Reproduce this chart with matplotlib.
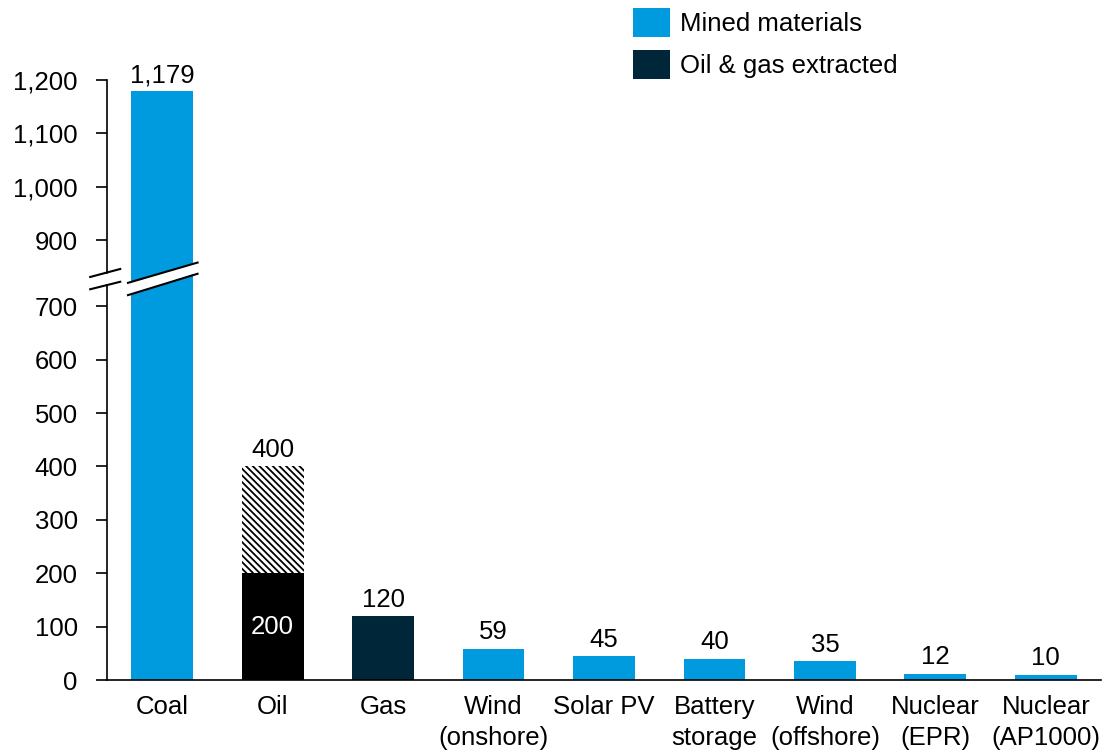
import numpy as np
import matplotlib.pyplot as plt
from matplotlib.patches import Patch, Polygon

plt.rcParams['font.family'] = ['Liberation Sans', 'DejaVu Sans']
plt.rcParams['hatch.linewidth'] = 1.3

# tonnes of material per TWh
sources = ['Coal', 'Oil', 'Gas', 'Wind\n(onshore)', 'Solar PV', 'Battery\nstorage',
           'Wind\n(offshore)', 'Nuclear\n(EPR)', 'Nuclear\n(AP1000)']
values = [1179, 200, 120, 59, 45, 40, 35, 12, 10]
oil_upper = 400          # top of the range for oil
kinds = ['mined', 'oil', 'extracted', 'mined', 'mined', 'mined', 'mined', 'mined', 'mined']

blue = '#009BDE'
navy = '#00263A'
colors = {'mined': blue, 'oil': '#000000', 'extracted': navy}

# broken axis: values above the gap are pulled down
GAP = 76
def brk(v):
    v = np.asarray(v, dtype=float)
    return np.where(v > 800, v - GAP, v)

yticks = [0, 100, 200, 300, 400, 500, 600, 700, 900, 1000, 1100, 1200]

fig = plt.figure(figsize=(11.02, 7.53), dpi=100)
ax = fig.add_axes([107/1102, 1 - 680/753, 994/1102, 600/753])

x = np.arange(len(sources))
w = 0.56
heights = brk(values)
ax.bar(x, heights, width=w, color=[colors[k] for k in kinds], zorder=2)

# hatched part of the oil range
i_oil = kinds.index('oil')
ax.bar(x[i_oil], oil_upper - values[i_oil], bottom=values[i_oil], width=w,
       facecolor='white', edgecolor='black', hatch='\\\\\\\\\\', linewidth=0, zorder=2)

fs = 18.5
for i, v in enumerate(values):
    if kinds[i] == 'oil':
        ax.text(x[i], v / 2, f'{v:,}', ha='center', va='center', color='white', fontsize=fs, zorder=3)
        ax.annotate(f'{oil_upper:,}', (x[i], oil_upper), xytext=(0, 3), textcoords='offset points',
                    ha='center', va='bottom', fontsize=fs)
    else:
        ax.annotate(f'{v:,}', (x[i], float(brk(v))), xytext=(0, 3), textcoords='offset points',
                    ha='center', va='bottom', fontsize=fs, annotation_clip=False)

ax.set_xlim(-0.5, len(sources) - 0.5)
ax.set_ylim(0, float(brk(1200)))
ax.set_yticks(brk(yticks))
ax.set_yticklabels([f'{t:,}' for t in yticks])
ax.set_xticks(x)
ax.set_xticklabels(sources, linespacing=1.35)
ax.tick_params(axis='x', length=0, pad=11, labelsize=fs)
ax.tick_params(axis='y', length=8, width=1.2, pad=13, labelsize=fs, direction='out')

for s in ['top', 'right', 'left']:
    ax.spines[s].set_visible(False)
ax.spines['bottom'].set_linewidth(1.2)

# left axis line drawn in two pieces around the break
ax.plot([-0.5, -0.5], [0, 740], color='black', lw=1.2, clip_on=False, zorder=4)
ax.plot([-0.5, -0.5], [763, float(brk(1200))], color='black', lw=1.2, clip_on=False, zorder=4)

# break marks on the axis
ax.plot([-0.652, -0.38], [755, 770], color='black', lw=1.5, clip_on=False, zorder=5)
ax.plot([-0.652, -0.38], [732, 746], color='black', lw=1.5, clip_on=False, zorder=5)

# white cut through the coal bar
xl, xr = x[0] - w / 2, x[0] + w / 2
ax.add_patch(Polygon([[xl - 0.01, 721], [xr + 0.01, 761], [xr + 0.01, 781], [xl - 0.01, 744]],
                     closed=True, facecolor='white', edgecolor='none', zorder=3, clip_on=False))
ax.plot([xl - 0.03, xr + 0.04], [744, 782], color='black', lw=1.5, clip_on=False, zorder=5)
ax.plot([xl - 0.03, xr + 0.04], [721, 761], color='black', lw=1.5, clip_on=False, zorder=5)

handles = [Patch(facecolor=blue, label='Mined materials'),
           Patch(facecolor=navy, label='Oil & gas extracted')]
fig.legend(handles=handles, loc='upper left', bbox_to_anchor=(623/1102, 1 + 2/753),
           frameon=False, fontsize=fs, handlelength=1.42, handleheight=1.35,
           handletextpad=0.4, labelspacing=0.5, borderaxespad=0)

fig.savefig('out.png', dpi=100)
